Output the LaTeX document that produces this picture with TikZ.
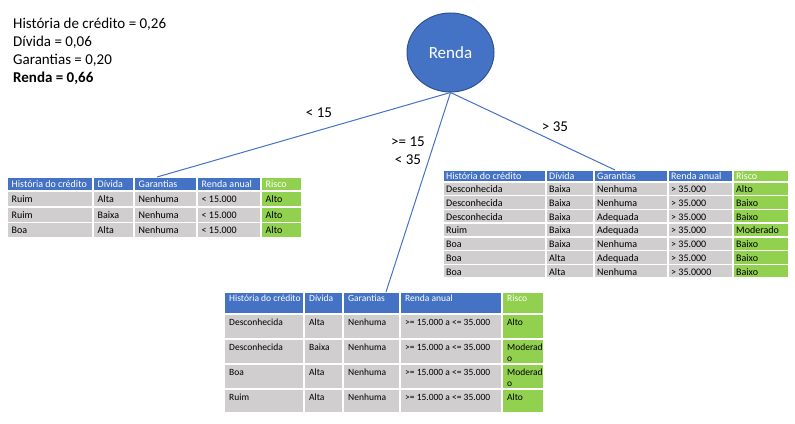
\documentclass[tikz,border=0pt]{standalone}
\usepackage{fontspec}
\setmainfont{Carlito}
\usepackage{tikz}
\usetikzlibrary{shapes.geometric}

\definecolor{azul}{HTML}{4472C4}
\definecolor{azulescuro}{HTML}{2F528F}
\definecolor{verde}{HTML}{92D050}
\definecolor{cinza}{HTML}{D0CECE}

\tikzset{
  celula/.style={inner sep=0pt, anchor=base west},
  ramo/.style={color=azul, line width=1pt},
  rotulo/.style={font=\fontsize{15}{18}\selectfont, inner sep=0pt},
  info/.style={font=\fontsize{15}{18}\selectfont, inner sep=0pt, anchor=base west},
}

% column borders, padding and font of the table being drawn
\newcommand{\colunas}[6]{\def\ca{#1}\def\cb{#2}\def\cc{#3}\def\cd{#4}\def\ce{#5}\def\cf{#6}}
\newcommand{\estilo}[2]{\def\fundo{#1}\def\letra{#2}}
\def\folga{4.5}
\def\fonte{\fontsize{10}{12}\selectfont}

% one row: name, top, bottom, baseline, five texts
\newcommand{\linhatab}[9]{%
  \fill[\fundo] (\ca+0.75,#2+0.75) rectangle (\cb-0.75,#3-0.75);
  \fill[\fundo] (\cb+0.75,#2+0.75) rectangle (\cc-0.75,#3-0.75);
  \fill[\fundo] (\cc+0.75,#2+0.75) rectangle (\cd-0.75,#3-0.75);
  \fill[\fundo] (\cd+0.75,#2+0.75) rectangle (\ce-0.75,#3-0.75);
  \fill[verde] (\ce+0.75,#2+0.75) rectangle (\cf-0.75,#3-0.75);
  \node[celula, text=\letra] (#1a) at (\ca+\folga,#4) {\fonte #5};
  \node[celula, text=\letra] (#1b) at (\cb+\folga,#4) {\fonte #6};
  \node[celula, text=\letra] (#1c) at (\cc+\folga,#4) {\fonte #7};
  \node[celula, text=\letra] (#1d) at (\cd+\folga,#4) {\fonte #8};
  \node[celula, text=\letra] (#1e) at (\ce+\folga,#4) {\fonte #9};
}
\newcommand{\quebra}{\parbox[t]{40pt}{Moderad\\o}}

\begin{document}
\begin{tikzpicture}[x=1pt, y=-1pt]
  \useasboundingbox (0,0) rectangle (795,423);

  % ganhos de informacao
  \node[info] (hist) at (13,28.3) {História de crédito = 0,26};
  \node[info] (div) at (13,46.3) {Dívida = 0,06};
  \node[info] (gar) at (13,64.3) {Garantias = 0,20};
  \node[info, font=\fontsize{15}{18}\selectfont\bfseries] (ren) at (13,82.3) {Renda = 0,66};

  % raiz
  \node[ellipse, draw=azulescuro, fill=azul, line width=1pt, minimum width=87pt, minimum height=79pt,
        inner sep=0pt, text=white, font=\fontsize{17}{20}\selectfont] (renda) at (450.5,52.5) {Renda};

  % tabela da esquerda
  \colunas{7}{93}{134}{197}{261}{302}
  \estilo{azul}{white}
  \linhatab{esq0}{177}{191}{187.5}{História do crédito}{Dívida}{Garantias}{Renda anual}{Risco}
  \estilo{cinza}{black}
  \linhatab{esq1}{191}{207}{202.7}{Ruim}{Alta}{Nenhuma}{< 15.000}{Alto}
  \linhatab{esq2}{207}{222.5}{218.2}{Ruim}{Baixa}{Nenhuma}{< 15.000}{Alto}
  \linhatab{esq3}{222.5}{238}{233.8}{Boa}{Alta}{Nenhuma}{< 15.000}{Alto}

  % tabela da direita
  \colunas{443}{546}{594}{668}{733}{789}
  \def\folga{3}
  \estilo{azul}{white}
  \linhatab{dir0}{170}{182}{179.3}{História do crédito}{Dívida}{Garantias}{Renda anual}{Risco}
  \estilo{cinza}{black}
  \linhatab{dir1}{182}{195.7}{192.7}{Desconhecida}{Baixa}{Nenhuma}{> 35.000}{Alto}
  \linhatab{dir2}{195.7}{209.4}{206.4}{Desconhecida}{Baixa}{Nenhuma}{> 35.000}{Baixo}
  \linhatab{dir3}{209.4}{223.1}{220.1}{Desconhecida}{Baixa}{Adequada}{> 35.000}{Baixo}
  \linhatab{dir4}{223.1}{236.9}{233.8}{Ruim}{Baixa}{Adequada}{> 35.000}{Moderado}
  \linhatab{dir5}{236.9}{250.6}{247.6}{Boa}{Baixa}{Nenhuma}{> 35.000}{Baixo}
  \linhatab{dir6}{250.6}{264.3}{261.3}{Boa}{Alta}{Adequada}{> 35.000}{Baixo}
  \linhatab{dir7}{264.3}{278}{275}{Boa}{Alta}{Nenhuma}{> 35.0000}{Baixo}

  % tabela de baixo
  \colunas{224}{304}{343}{400}{502}{544}
  \def\folga{5}
  \def\fonte{\fontsize{9.5}{11}\selectfont}
  \estilo{azul}{white}
  \linhatab{meio0}{292}{314}{301.5}{História do crédito}{Dívida}{Garantias}{Renda anual}{Risco}
  \estilo{cinza}{black}
  \linhatab{meio1}{314}{339}{325.8}{Desconhecida}{Alta}{Nenhuma}{>= 15.000 a <= 35.000}{Alto}
  \linhatab{meio2}{339}{364}{350.8}{Desconhecida}{Baixa}{Nenhuma}{>= 15.000 a <= 35.000}{\quebra}
  \linhatab{meio3}{364}{389}{375.8}{Boa}{Alta}{Nenhuma}{>= 15.000 a <= 35.000}{\quebra}
  \linhatab{meio4}{389}{413}{400.5}{Ruim}{Alta}{Nenhuma}{>= 15.000 a <= 35.000}{Alto}

  % ramos
  \coordinate (topoesq) at (157,177);
  \coordinate (topomeio) at (386,292);
  \coordinate (topodir) at (615,170);
  \draw[ramo] (renda.south) -- (topoesq);
  \draw[ramo] (renda.south) -- (topomeio);
  \draw[ramo] (renda.south) -- (topodir);

  \node[rotulo] (menor) at (319,113) {< 15};
  \node[rotulo, align=center] (entre) at (408,151) {>= 15\\< 35};
  \node[rotulo] (maior) at (555,127) {> 35};
\end{tikzpicture}
\end{document}
